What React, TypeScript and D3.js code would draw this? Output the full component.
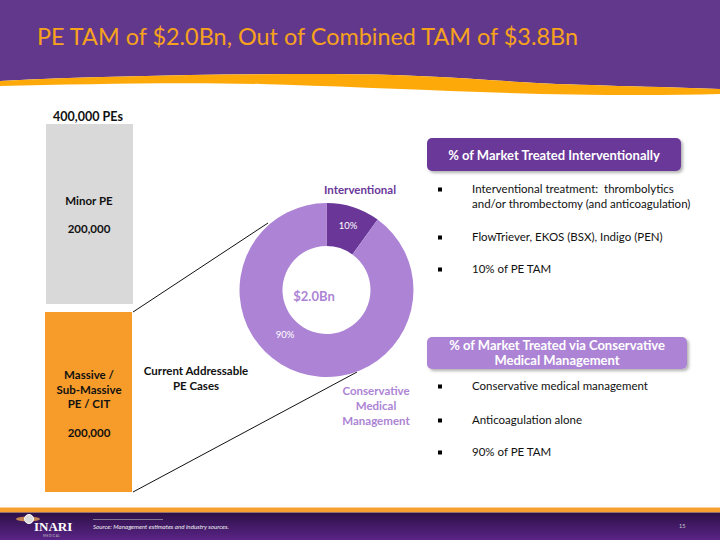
import React from "react";
import * as d3 from "d3";

const title = "PE TAM of $2.0Bn, Out of Combined TAM of $3.8Bn";
const totalLabel = "400,000 PEs";
const barCategories = ["Minor PE", "Massive / Sub-Massive PE / CIT"];
const barLabelLines = [["Minor PE", "", "200,000"], ["Massive /", "Sub-Massive", "PE / CIT", "", "200,000"]];
const barValues = [200000, 200000];
const donutCategories = ["Interventional", "Conservative Medical Management"];
const donutValues = [10, 90];
const donutCenterLabel = "$2.0Bn";
const box1Title = ["% of Market Treated Interventionally"];
const box1Bullets = [["Interventional treatment:  thrombolytics", "and/or thrombectomy (and anticoagulation)"], ["FlowTriever, EKOS (BSX), Indigo (PEN)"], ["10% of PE TAM"]];
const box2Title = ["% of Market Treated via Conservative", "Medical Management"];
const box2Bullets = [["Conservative medical management"], ["Anticoagulation alone"], ["90% of PE TAM"]];
const sourceText = "Source: Management estimates and industry sources.";
const pageNum = "15";

const FONT = "Lato, 'Open Sans', sans-serif";
const DARK = "#6A3799";
const LIGHT = "#AD84D5";
const ORANGE = "#F79C2A";
const FS = 11.5;

export default function App() {
  const W = 720, H = 540;
  // stacked bar
  const total = d3.sum(barValues);
  const gap = 8;
  const yScale = d3.scaleLinear().domain([0, total]).range([0, 368 - gap]);
  const barTop = 124;
  const barX = d3.scaleBand().domain(["total"]).range([45, 133]).padding(0);
  let acc = 0;
  const bars = barValues.map((v, i) => {
    const y = barTop + yScale(acc) + i * gap;
    const h = yScale(v);
    acc += v;
    return { y, h, i };
  });
  const barColors = ["#D9D9D9", ORANGE];

  // donut
  const cx = 326.5, cy = 290, rOut = 87, rIn = 44;
  const pie = d3.pie<number>().sort(null).value((d) => d);
  const arcs = pie(donutValues);
  const arc = d3.arc<d3.PieArcDatum<number>>().innerRadius(rIn).outerRadius(rOut);
  const sliceColors = [DARK, LIGHT];
  const labelPos = [
    { x: 348, y: 229 },
    { x: 285, y: 338 },
  ];

  const headerPurple = "M0,0 H720 V89 C640,86 560,85 520,82 C460,78 400,74 330,74 C220,74 100,76 0,81 Z";
  const headerOrange = "M0,81 C100,76 220,74 330,74 C400,74 460,78 520,82 C560,85 640,86 720,89 V94 C650,96 560,95 480,92 C400,89 330,86 260,84 C180,82 80,84 0,86 Z";

  const bullet = (x: number, y: number, key: string) => (
    <rect key={key} x={x - 2} y={y - 5.5} width={4} height={4} fill="#000" />
  );

  return (
    <svg width={W} height={H} style={{ position: "absolute", left: 0, top: 0, background: "#fff" }} fontFamily={FONT}>
      <defs>
        <linearGradient id="footg" x1="0" y1="0" x2="0" y2="1">
          <stop offset="0" stopColor="#2C1046" />
          <stop offset="1" stopColor="#5A2487" />
        </linearGradient>
        <filter id="sh" x="-10%" y="-30%" width="120%" height="170%">
          <feDropShadow dx="2" dy="2" stdDeviation="1.5" floodColor="#000" floodOpacity="0.3" />
        </filter>
      </defs>
      <rect width={W} height={H} fill="#fff" />
      {/* header */}
      <path d={headerPurple} fill="#62388D" />
      <path d={headerOrange} fill="#FDA90A" />
      <text x={37} y={45} fontSize={23} fill="#F7A21C" fontFamily={FONT} textLength={541} lengthAdjust="spacingAndGlyphs">{title}</text>

      {/* stacked bar */}
      <text x={88} y={121} textAnchor="middle" fontSize={12.5} fontWeight="bold" fill="#111">{totalLabel}</text>
      {bars.map((b) => (
        <g key={barCategories[b.i]}>
          <rect x={barX("total")! + (b.i === 0 ? 1 : 0)} y={b.y} width={barX.bandwidth() - 1} height={b.h} fill={barColors[b.i]} />
          {barLabelLines[b.i].map((l, j) => {
            const n = barLabelLines[b.i].length;
            const lh = 14.3;
            const mid = b.y + b.h / 2 + (b.i === 0 ? 1 : 2);
            return (
              <text key={j} x={89} y={mid + (j - (n - 1) / 2) * lh + 4} textAnchor="middle" fontSize={FS} fontWeight="bold" fill="#111">{l}</text>
            );
          })}
        </g>
      ))}
      <line x1={133} y1={bars[1].y} x2={268} y2={223} stroke="#111" strokeWidth={1} />
      <line x1={133} y1={bars[1].y + bars[1].h} x2={357} y2={372} stroke="#111" strokeWidth={1} />
      <text x={196} y={375} textAnchor="middle" fontSize={FS} fontWeight="bold" fill="#111">Current Addressable</text>
      <text x={196} y={390} textAnchor="middle" fontSize={FS} fontWeight="bold" fill="#111">PE Cases</text>

      {/* donut */}
      <g transform={`translate(${cx},${cy})`}>
        {arcs.map((a, i) => (
          <path key={donutCategories[i]} d={arc(a)!} fill={sliceColors[i]} />
        ))}
      </g>
      {arcs.map((a, i) => (
        <text key={"l" + i} x={labelPos[i].x} y={labelPos[i].y} textAnchor="middle" fontSize={9.5} fill="#fff">{donutValues[i]}%</text>
      ))}
      <text x={314} y={301} textAnchor="middle" fontSize={13} fontWeight="bold" fill={LIGHT}>{donutCenterLabel}</text>
      <text x={360} y={194} textAnchor="middle" fontSize={FS} fontWeight="bold" fill={DARK}>{donutCategories[0]}</text>
      {["Conservative", "Medical", "Management"].map((l, j) => (
        <text key={j} x={376} y={395 + j * 15} textAnchor="middle" fontSize={FS} fontWeight="bold" fill={LIGHT}>{l}</text>
      ))}

      {/* box 1 */}
      <rect x={427} y={138} width={254} height={33} rx={5} fill={DARK} filter="url(#sh)" />
      <text x={554} y={159.5} textAnchor="middle" fontSize={13} fontWeight="bold" fill="#fff">{box1Title[0]}</text>
      {box1Bullets.map((lines, i) => {
        const ys = [193, 241, 273];
        return (
          <g key={"b1" + i}>
            {bullet(440, ys[i], "bb1" + i)}
            {lines.map((l, j) => (
              <text key={j} x={472} y={ys[i] + j * 14.5} fontSize={FS} fill="#111" style={{ whiteSpace: "pre" }}>{l}</text>
            ))}
          </g>
        );
      })}

      {/* box 2 */}
      <rect x={427} y={337} width={260} height={32} rx={5} fill={LIGHT} filter="url(#sh)" />
      {box2Title.map((l, j) => (
        <text key={j} x={557} y={349.5 + j * 15.5} textAnchor="middle" fontSize={13} fontWeight="bold" fill="#fff">{l}</text>
      ))}
      {box2Bullets.map((lines, i) => {
        const ys = [390, 424, 456];
        return (
          <g key={"b2" + i}>
            {bullet(440, ys[i], "bb2" + i)}
            {lines.map((l, j) => (
              <text key={j} x={472} y={ys[i] + j * 14.5} fontSize={FS} fill="#111">{l}</text>
            ))}
          </g>
        );
      })}

      {/* footer */}
      <rect x={0} y={507.5} width={W} height={5} fill="#F7A030" />
      <rect x={0} y={512.5} width={W} height={27.5} fill="url(#footg)" />
      <ellipse cx={28} cy={519} rx={12} ry={2.5} fill="#E8A050" opacity={0.8} />
      <circle cx={29} cy={519} r={4.5} fill="#ddd" stroke="#fff" strokeWidth={1} />
      <text x={34} y={531} fontSize={13} fontWeight="bold" fill="#fff" fontFamily="'Liberation Serif', serif">INARI</text>
      <text x={43} y={536.5} fontSize={3} fill="#ccc" letterSpacing={0.6}>MEDICAL</text>
      <line x1={93} y1={519.5} x2={163} y2={519.5} stroke="#bbb" strokeWidth={0.6} />
      <text x={93} y={529} fontSize={6.2} fontStyle="italic" fill="#eee">{sourceText}</text>
      <text x={679} y={528} fontSize={5.5} fill="#ccc">{pageNum}</text>
    </svg>
  );
}
